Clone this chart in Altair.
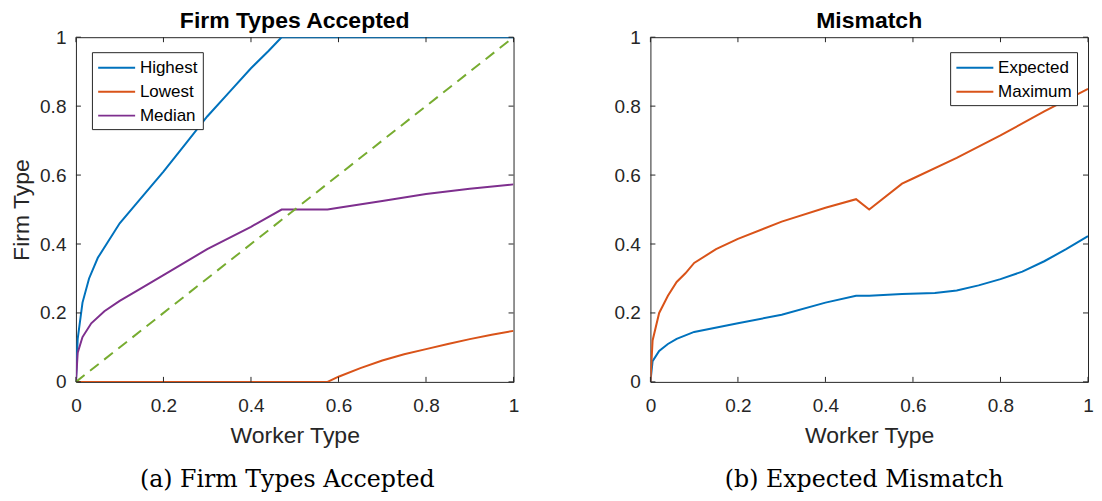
import altair as alt
import pandas as pd

# ---------------- data ----------------
high_x = [0, 0.004, 0.015, 0.03, 0.05, 0.07, 0.1, 0.14, 0.2, 0.25, 0.3, 0.35, 0.4, 0.44, 0.47, 1.0]
high_y = [0, 0.125, 0.23, 0.30, 0.36, 0.40, 0.46, 0.52, 0.61, 0.69, 0.77, 0.84, 0.91, 0.96, 1.0, 1.0]

low_x = [0, 0.575, 0.6, 0.65, 0.7, 0.75, 0.8, 0.85, 0.9, 0.95, 1.0]
low_y = [0, 0, 0.015, 0.04, 0.062, 0.08, 0.095, 0.11, 0.124, 0.137, 0.148]

med_x = [0, 0.004, 0.015, 0.035, 0.065, 0.1, 0.14, 0.2, 0.3, 0.4, 0.47, 0.575, 0.6, 0.7, 0.8, 0.9, 1.0]
med_y = [0, 0.085, 0.13, 0.17, 0.205, 0.235, 0.265, 0.31, 0.385, 0.45, 0.50, 0.50, 0.505, 0.525, 0.545, 0.56, 0.573]

diag_x = [0, 1]
diag_y = [0, 1]

max_x = [0, 0.005, 0.02, 0.04, 0.06, 0.08, 0.1, 0.15, 0.2, 0.3, 0.4, 0.47, 0.5, 0.575, 0.6, 0.7, 0.8, 0.9, 1.0]
max_y = [0, 0.12, 0.20, 0.25, 0.29, 0.315, 0.345, 0.385, 0.415, 0.465, 0.505, 0.53, 0.50, 0.575, 0.59, 0.65, 0.715, 0.785, 0.85]

exp_x = [0, 0.005, 0.02, 0.04, 0.06, 0.1, 0.2, 0.3, 0.4, 0.47, 0.5, 0.575, 0.65, 0.7, 0.75, 0.8, 0.85, 0.9, 0.95, 1.0]
exp_y = [0, 0.06, 0.09, 0.11, 0.125, 0.145, 0.17, 0.195, 0.23, 0.25, 0.25, 0.255, 0.258, 0.265, 0.28, 0.298, 0.32, 0.35, 0.385, 0.423]

tick_values = [0, 0.2, 0.4, 0.6, 0.8, 1.0]

left_names = ["Highest", "Lowest", "Median"]
left_colors = ["#0072BD", "#D95319", "#7E2F8E"]
right_names = ["Expected", "Maximum"]
right_colors = ["#0072BD", "#D95319"]
diag_color = "#77AC30"

AX = "#262626"
W, H = 438, 345


def series_frame(names, xs, ys):
    rows = []
    for n, xv, yv in zip(names, xs, ys):
        for a, b in zip(xv, yv):
            rows.append({"series": n, "x": a, "y": b})
    return pd.DataFrame(rows)


def panel(df, names, colors, title, ytitle, legend_x, caption, cap_dx, diag=False):
    xs = alt.Scale(domain=[0, 1], nice=False)
    ys = alt.Scale(domain=[0, 1], nice=False)
    xaxis = alt.Axis(values=tick_values, format=".1~f", title="Worker Type", labelFlush=False)
    yaxis = alt.Axis(values=tick_values, format=".1~f", title=ytitle if ytitle else None)

    lines = alt.Chart(df).mark_line(strokeWidth=2, clip=True).encode(
        x=alt.X("x:Q", scale=xs, axis=xaxis),
        y=alt.Y("y:Q", scale=ys, axis=yaxis),
        color=alt.Color(
            "series:N",
            scale=alt.Scale(domain=names, range=colors),
            sort=names,
            legend=alt.Legend(
                title=None, orient="none", legendX=legend_x, legendY=15,
                direction="vertical", symbolType="M-1,0H3", symbolSize=342,
                symbolStrokeWidth=2, labelFontSize=17, labelFont="Liberation Sans",
                labelColor="#000000", padding=5, rowPadding=5, strokeColor=AX,
                fillColor="white", labelOffset=22, cornerRadius=0, labelLimit=300,
            ),
        ),
    )
    layers = [lines]
    if diag:
        ddf = pd.DataFrame({"x": diag_x, "y": diag_y})
        layers.append(
            alt.Chart(ddf).mark_line(strokeWidth=2, strokeDash=[11, 7], color=diag_color).encode(
                x=alt.X("x:Q", scale=xs, axis=xaxis), y=alt.Y("y:Q", scale=ys, axis=yaxis)
            )
        )
    tdf = pd.DataFrame({"t": tick_values})
    tl = 5
    layers += [
        alt.Chart(tdf).mark_rule(color=AX, strokeWidth=1).encode(
            x=alt.X("t:Q", scale=xs, axis=xaxis), y=alt.value(H), y2=alt.value(H - tl)),
        alt.Chart(tdf).mark_rule(color=AX, strokeWidth=1).encode(
            x=alt.X("t:Q", scale=xs, axis=xaxis), y=alt.value(0), y2=alt.value(tl)),
        alt.Chart(tdf).mark_rule(color=AX, strokeWidth=1).encode(
            y=alt.Y("t:Q", scale=ys, axis=yaxis), x=alt.value(0), x2=alt.value(tl)),
        alt.Chart(tdf).mark_rule(color=AX, strokeWidth=1).encode(
            y=alt.Y("t:Q", scale=ys, axis=yaxis), x=alt.value(W - tl), x2=alt.value(W)),
    ]
    cdf = pd.DataFrame({"c": [caption]})
    layers.append(
        alt.Chart(cdf).mark_text(font="DejaVu Serif", fontSize=23.7, color="#000000",
                                 align="center", baseline="middle").encode(
            x=alt.value(W / 2 + cap_dx), y=alt.value(H + 98), text="c:N")
    )
    return alt.layer(*layers).properties(
        width=W, height=H,
        title=alt.Title(title, fontSize=23, font="Liberation Sans", fontWeight="bold",
                        color="#000000", offset=-5),
    )


left_df = series_frame(left_names, [high_x, low_x, med_x], [high_y, low_y, med_y])
right_df = series_frame(right_names, [exp_x, max_x], [exp_y, max_y])

left = panel(left_df, left_names, left_colors, "Firm Types Accepted", "Firm Type", 16,
             "(a) Firm Types Accepted", -7.5, diag=True)
right = panel(right_df, right_names, right_colors, "Mismatch", None, 300,
              "(b) Expected Mismatch", -5)

chart = alt.hconcat(left, right, spacing=94).resolve_scale(color="independent").properties(
    padding={"left": 2, "top": 1, "right": 0, "bottom": 0}
).configure_view(stroke=AX, strokeWidth=1).configure_axis(
    grid=False, domain=False, ticks=False,
    labelFont="Liberation Sans", labelFontSize=19, labelColor=AX,
    titleFont="Liberation Sans", titleFontSize=23, titleFontWeight="normal", titleColor=AX,
).configure_axisX(labelPadding=15, titlePadding=9).configure_axisY(labelPadding=10, titlePadding=6)

chart.save("out.html", embed_options={"renderer": "svg", "actions": False})
